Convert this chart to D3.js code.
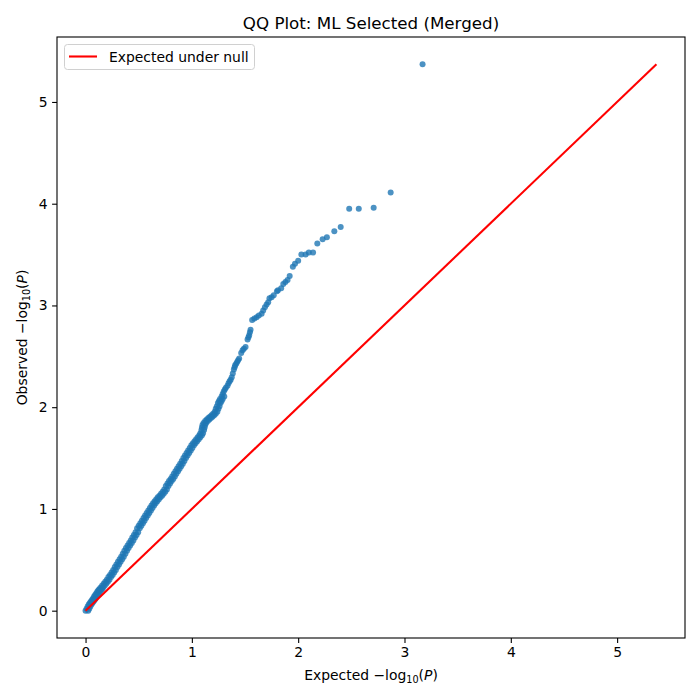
<!DOCTYPE html>
<html><head><meta charset="utf-8">
<script src="https://cdn.jsdelivr.net/npm/d3@7"></script>
<style>body{margin:0;background:#fff;} text{font-family:"DejaVu Sans",sans-serif;}</style>
</head><body>
<svg id="chart" width="700" height="700"></svg>
<script>
// Expected -log10(P) values
const expectedVals = [
0.000,0.010,0.020,0.030,0.040,0.050,0.060,0.070,0.080,0.090,0.100,0.110,0.120,0.130,0.140,0.155,0.170,0.185,0.200,0.215,
0.230,0.245,0.260,0.275,0.290,0.305,0.320,0.335,0.350,0.365,0.380,0.395,0.410,0.425,0.440,0.455,0.470,0.485,0.500,0.515,
0.530,0.545,0.560,0.575,0.590,0.605,0.620,0.635,0.650,0.665,0.680,0.695,0.710,0.725,0.740,0.755,0.770,0.785,0.800,0.815,
0.830,0.845,0.860,0.875,0.890,0.905,0.920,0.935,0.950,0.965,0.980,0.995,1.010,1.025,1.040,1.055,1.070,1.080,1.090,1.095,
1.100,1.110,1.125,1.140,1.155,1.170,1.185,1.200,1.215,1.225,1.235,1.245,1.255,1.265,1.280,1.290,1.300,1.310,1.320,1.335,
1.345,1.355,1.365,1.375,1.385,1.395,1.402,1.407,1.417,1.426,1.435,1.445,1.464,1.477,1.489,1.505,1.524,1.532,1.539,1.546,
1.552,1.567,1.588,1.609,1.630,1.656,1.671,1.687,1.703,1.718,
1.73,1.75,1.77,1.80,1.81,1.84,1.86,1.88,1.90,1.92,1.95,1.97,2.00,2.03,2.07,2.10,2.14,2.18,2.23,2.27,2.34,2.40,2.48,2.57,2.71,2.87,3.17
];
// Observed -log10(P) values
const observedVals = [
0.000,0.020,0.040,0.060,0.075,0.090,0.105,0.120,0.140,0.155,0.170,0.185,0.200,0.210,0.225,0.245,0.265,0.285,0.305,0.330,
0.350,0.375,0.400,0.430,0.455,0.480,0.505,0.530,0.560,0.590,0.615,0.640,0.665,0.690,0.720,0.745,0.770,0.810,0.835,0.860,
0.885,0.910,0.935,0.960,0.985,1.010,1.035,1.055,1.075,1.095,1.115,1.130,1.150,1.170,1.190,1.225,1.250,1.275,1.295,1.320,
1.345,1.370,1.395,1.420,1.445,1.470,1.500,1.525,1.550,1.575,1.600,1.625,1.645,1.665,1.685,1.705,1.725,1.745,1.775,1.800,
1.825,1.845,1.865,1.880,1.895,1.905,1.920,1.935,1.955,1.985,2.010,2.040,2.060,2.080,2.105,2.130,2.155,2.175,2.190,2.210,
2.235,2.255,2.270,2.295,2.330,2.370,2.392,2.412,2.427,2.444,2.461,2.478,2.533,2.560,2.574,2.592,2.665,2.687,2.707,2.736,
2.760,2.858,2.871,2.884,2.901,2.918,2.950,2.983,3.010,3.032,
3.07,3.08,3.10,3.14,3.15,3.17,3.21,3.23,3.25,3.29,3.38,3.41,3.44,3.50,3.50,3.52,3.52,3.61,3.65,3.67,3.73,3.77,3.95,3.95,3.96,4.11,5.37
];
// Second strand of the dense band: expected / observed
const bandExpected = [
0.025,0.035,0.045,0.055,0.065,0.075,0.085,0.095,0.105,0.115,0.125,0.135,0.145,0.155,0.165,0.180,0.195,0.210,0.225,0.240,
0.255,0.270,0.285,0.300,0.315,0.330,0.345,0.360,0.375,0.390,0.405,0.420,0.435,0.450,0.465,0.480,0.495,0.510,0.525,0.540,
0.555,0.570,0.585,0.600,0.615,0.630,0.645,0.660,0.675,0.690,0.705,0.720,0.735,0.750,0.765,0.780,0.795,0.810,0.825,0.840,
0.855,0.870,0.885,0.900,0.915,0.930,0.945,0.960,0.975,0.990,1.005,1.020,1.035,1.050,1.065,1.080,1.095,1.105,1.115,1.120,
1.125,1.135,1.150,1.165,1.180,1.195,1.210,1.225,1.240,1.250,1.260,1.270,1.280,1.290,1.305
];
const bandObserved = [
0.000,0.020,0.040,0.060,0.075,0.090,0.105,0.120,0.140,0.155,0.170,0.185,0.200,0.210,0.225,0.245,0.265,0.285,0.305,0.330,
0.350,0.375,0.400,0.430,0.455,0.480,0.505,0.530,0.560,0.590,0.615,0.640,0.665,0.690,0.720,0.745,0.770,0.810,0.835,0.860,
0.885,0.910,0.935,0.960,0.985,1.010,1.035,1.055,1.075,1.095,1.115,1.130,1.150,1.170,1.190,1.225,1.250,1.275,1.295,1.320,
1.345,1.370,1.395,1.420,1.445,1.470,1.500,1.525,1.550,1.575,1.600,1.625,1.645,1.665,1.685,1.705,1.725,1.745,1.775,1.800,
1.825,1.845,1.865,1.880,1.895,1.905,1.920,1.935,1.955,1.985,2.010,2.040,2.060,2.080,2.105
];
const nullLine = [0, 5.37];
const xTicks = [0,1,2,3,4,5];
const yTicks = [0,1,2,3,4,5];

const svg = d3.select("#chart");
const L = 57, R = 685, T = 37, B = 638;
const dom = [-0.2685, 5.6385];
const x = d3.scaleLinear().domain(dom).range([L, R]);
const y = d3.scaleLinear().domain(dom).range([B, T]);

const pts = expectedVals.map((e,i)=>({e, o: observedVals[i]}))
  .concat(bandExpected.map((e,i)=>({e, o: bandObserved[i]})));

svg.append("g").selectAll("circle").data(pts).join("circle")
  .attr("cx", d=>x(d.e)).attr("cy", d=>y(d.o)).attr("r", 3)
  .attr("fill", "#1f77b4").attr("fill-opacity", 0.8);

svg.append("line")
  .attr("x1", x(nullLine[0])).attr("y1", y(nullLine[0]))
  .attr("x2", x(nullLine[1])).attr("y2", y(nullLine[1]))
  .attr("stroke", "red").attr("stroke-width", 2.1);

const xAxis = svg.append("g").attr("transform", `translate(0,${B})`)
  .call(d3.axisBottom(x).tickValues(xTicks).tickFormat(d3.format("d")).tickSize(4.9).tickPadding(4.5));
const yAxis = svg.append("g").attr("transform", `translate(${L},0)`)
  .call(d3.axisLeft(y).tickValues(yTicks).tickFormat(d3.format("d")).tickSize(4.9).tickPadding(4.5));
[xAxis, yAxis].forEach(a=>{
  a.select(".domain").remove();
  a.selectAll(".tick line").attr("stroke","#000").attr("stroke-width",1.1);
  a.selectAll(".tick text").attr("font-size","13.9px").attr("fill","#000").attr("font-family","DejaVu Sans");
});

svg.append("rect").attr("x", L).attr("y", T).attr("width", R-L).attr("height", B-T)
  .attr("fill","none").attr("stroke","#000").attr("stroke-width",1.1);

svg.append("text").attr("x", (L+R)/2).attr("y", 29).attr("text-anchor","middle")
  .attr("font-size","16.7px").text("QQ Plot: ML Selected (Merged)");

const xl = svg.append("text").attr("x", (L+R)/2).attr("y", 680).attr("text-anchor","middle").attr("font-size","13.9px");
xl.append("tspan").text("Expected −log");
xl.append("tspan").attr("font-size","9.7px").attr("dy", 3).text("10");
xl.append("tspan").attr("dy", -3).text("(");
xl.append("tspan").attr("font-style","italic").text("P");
xl.append("tspan").text(")");

const yl = svg.append("text").attr("transform", `translate(27,${(T+B)/2}) rotate(-90)`)
  .attr("text-anchor","middle").attr("font-size","13.9px");
yl.append("tspan").text("Observed −log");
yl.append("tspan").attr("font-size","9.7px").attr("dy", 3).text("10");
yl.append("tspan").attr("dy", -3).text("(");
yl.append("tspan").attr("font-style","italic").text("P");
yl.append("tspan").text(")");

const lg = svg.append("g");
lg.append("rect").attr("x", 64.5).attr("y", 44.5).attr("width", 190).attr("height", 25).attr("rx", 3)
  .attr("fill","#fff").attr("fill-opacity",0.8).attr("stroke","#d0d0d0").attr("stroke-width",1);
lg.append("line").attr("x1", 69).attr("x2", 97).attr("y1", 56.5).attr("y2", 56.5).attr("stroke","red").attr("stroke-width",2.1);
lg.append("text").attr("x", 109).attr("y", 61.5).attr("font-size","13.9px").text("Expected under null");
</script>
</body></html>
